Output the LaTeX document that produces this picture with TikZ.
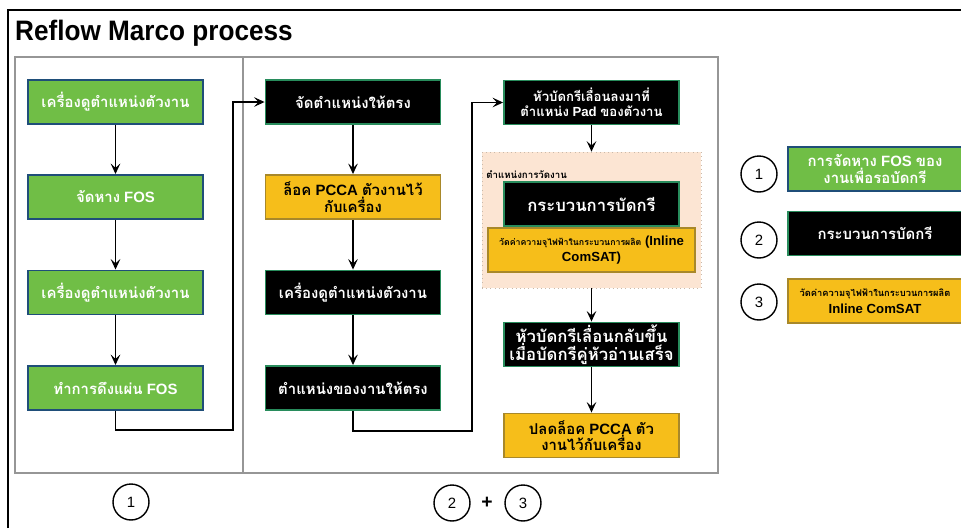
\documentclass[tikz,border=0pt]{standalone}
\usepackage{fontspec}
\setmainfont{Liberation Sans}
\newfontfamily\titlefont[FakeStretch=0.93]{Liberation Sans}
\newfontfamily\thaifont[Script=Thai]{Loma}
\newcommand{\thai}[1]{{\thaifont #1}}
\usetikzlibrary{arrows.meta}
\definecolor{fosgreen}{RGB}{112,190,70}
\definecolor{fosblue}{RGB}{31,78,121}
\definecolor{bondgreen}{RGB}{40,140,92}
\definecolor{satyellow}{RGB}{246,190,26}
\definecolor{satbrown}{RGB}{168,136,42}
\definecolor{zonepeach}{RGB}{252,229,211}
\definecolor{zoneline}{RGB}{200,185,170}
\definecolor{panelgray}{RGB}{150,150,150}
\tikzset{
  box/.style={draw, line width=1.1pt, minimum width=3.5cm, minimum height=0.88cm,
    align=center, inner sep=1pt, font=\bfseries\fontsize{8.5}{9.5}\selectfont},
  fosbox/.style={box, fill=fosgreen, draw=fosblue, text=white},
  bondbox/.style={box, fill=black, draw=bondgreen, text=white},
  satbox/.style={box, fill=satyellow, draw=satbrown, text=black},
  num/.style={draw, circle, line width=0.8pt, minimum size=0.72cm, inner sep=0pt,
    font=\fontsize{8.5}{9}\selectfont},
  arr/.style={-{Stealth[length=6pt,width=5.5pt,inset=2.5pt]}, line width=0.6pt},
}
\begin{document}
\begin{tikzpicture}[x=0.02cm, y=-0.02cm]
\useasboundingbox (0,0) rectangle (961,528);
% frame and title
\draw[line width=1pt] (8,528) -- (8,10) -- (961,10);
\node[anchor=west, font=\titlefont\bfseries\fontsize{16}{18}\selectfont] (title) at (9,33) {Reflow Marco process};
\draw[panelgray, line width=1.2pt] (15,57) rectangle (243,473);
\draw[panelgray, line width=1.2pt] (243,57) rectangle (718,473);

% step 1
\node[fosbox] (f1) at (115.5,102) {\thai{เครื่องดูตำแหน่งตัวงาน}};
\node[fosbox] (f2) at (115.5,197) {\thai{จัดหาง} FOS};
\node[fosbox] (f3) at (115.5,292.5) {\thai{เครื่องดูตำแหน่งตัวงาน}};
\node[fosbox] (f4) at (115.5,388) {\thai{ทำการดึงแผ่น} FOS};

% step 2
\node[bondbox] (b1) at (353,102) {\thai{จัดตำแหน่งให้ตรง}};
\node[satbox] (b2) at (353,197) {\thai{ล็อค} PCCA \thai{ตัวงานไว้}\\\thai{กับเครื่อง}};
\node[bondbox] (b3) at (353,292.5) {\thai{เครื่องดูตำแหน่งตัวงาน}};
\node[bondbox] (b4) at (353,388) {\thai{ตำแหน่งของงานให้ตรง}};

% step 2 + 3
\node[fill=zonepeach, draw=zoneline, dotted, minimum width=4.38cm, minimum height=2.72cm] (zone) at (591.5,220) {};
\node[anchor=west, inner sep=0pt, font=\bfseries\fontsize{5.5}{6}\selectfont] (zonetxt) at (486,175) {\thai{ตำแหน่งการวัดงาน}};
\node[bondbox, font=\bfseries\fontsize{7.5}{8.5}\selectfont] (p1) at (591.5,102.5) {\thai{หัวบัดกรีเลื่อนลงมาที่}\\\thai{ตำแหน่ง} Pad \thai{ของตัวงาน}};
\node[bondbox, font=\bfseries\fontsize{9.5}{10}\selectfont] (p2) at (591.5,204) {\thai{กระบวนการบัดกรี}};
\node[satbox, minimum width=4.14cm, font=\bfseries\fontsize{7.5}{9.5}\selectfont] (p3) at (591.5,250) {{\thaifont\fontsize{5}{7}\selectfont วัดค่าความจุไฟฟ้าในกระบวนการผลิต} (Inline\\ComSAT)};
\node[bondbox, font=\bfseries\fontsize{9.5}{10}\selectfont] (p4) at (591.5,344.5) {\thai{หัวบัดกรีเลื่อนกลับขึ้น}\\\thai{เมื่อบัดกรีคู่หัวอ่านเสร็จ}};
\node[satbox] (p5) at (591.5,435.5) {\thai{ปลดล็อค} PCCA \thai{ตัว}\\\thai{งานไว้กับเครื่อง}};

\coordinate (t1) at (233,430);
\coordinate (t2) at (472,431);
\foreach \a/\b in {f1/f2, f2/f3, f3/f4, b1/b2, b2/b3, b3/b4, p1/zone, zone/p4, p4/p5}
  \draw[arr] (\a) -- (\b);
\draw[arr] (f4.south) |- (t1) |- (b1.west);
\draw[arr] (b4.south) |- (t2) |- (p1.west);

% legend
\node[num] (n1) at (759,174) {1};
\node[num] (n2) at (759,240) {2};
\node[num] (n3) at (759,302) {3};
\node[fosbox, minimum width=3.48cm] (l1) at (875,169) {\thai{การจัดหาง} FOS \thai{ของ}\\\thai{งานเพื่อรอบัดกรี}};
\node[bondbox, minimum width=3.48cm] (l2) at (875,233.5) {\thai{กระบวนการบัดกรี}};
\node[satbox, minimum width=3.48cm, font=\bfseries\fontsize{7.5}{9.5}\selectfont] (l3) at (875,301) {{\thaifont\fontsize{5.3}{7}\selectfont วัดค่าความจุไฟฟ้าในกระบวนการผลิต}\\Inline ComSAT};

% bottom marks
\node[num] (s1) at (131,502) {1};
\node[num] (s2) at (452,503) {2};
\node[font=\bfseries\fontsize{11}{12}\selectfont] (plus) at (487,503) {+};
\node[num] (s3) at (523,503) {3};
\end{tikzpicture}
\end{document}
